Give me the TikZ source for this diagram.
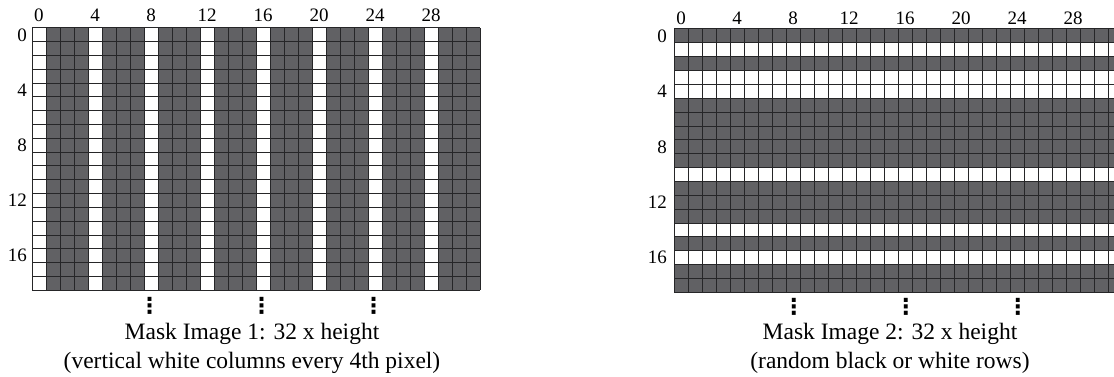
\documentclass[tikz,border=0pt]{standalone}
\usepackage{fontspec}
\setmainfont{Liberation Serif}
\newfontfamily\dotsfont{DejaVu Sans}
\usepackage{tikz}
\usetikzlibrary{positioning}

\definecolor{maskgray}{RGB}{97,97,100}
\definecolor{cellstroke}{RGB}{38,38,40}

\begin{document}
\begin{tikzpicture}[x=1pt, y=-1pt,
    cellline/.style={draw=cellstroke, line width=1pt},
    axisnum/.style={inner sep=0pt, font=\fontsize{19}{19}\selectfont},
    moredots/.style={inner sep=0pt, anchor=south, font=\dotsfont\bfseries\fontsize{22}{22}\selectfont},
    caption/.style={inner sep=0pt, anchor=north, align=center, font=\fontsize{23.5}{29}\selectfont}]
    \useasboundingbox (0,0) rectangle (1114,377);
    \clip (0,0) rectangle (1114,377);

    % mask image 1: every 4th column white
    \begin{scope}[shift={(32,28)}, x=14pt, y=-13.8pt]
        \fill[maskgray] (0,0) rectangle (32,19);
        \foreach \c in {0,4,...,28}
            \fill[white] (\c,0) rectangle (\c+1,19);
        \foreach \c in {0,...,32}
            \draw[cellline] (\c,0) -- (\c,19);
        \foreach \r in {0,...,19}
            \draw[cellline] (0,\r) -- (32,\r);

        \foreach \c in {0,4,...,28}
            \node[axisnum, anchor=base] (colA\c) at (\c+0.5,-0.45) {\c};
        \foreach \r in {0,4,...,16}
            \node[axisnum, anchor=east] (rowA\r) at (-0.35,\r+0.5) {\r};

        % rows go on below
        \node[moredots] (dotsA1) at (8.4,20.8) {⋮};
        \node[moredots] (dotsA2) at (16.4,20.8) {⋮};
        \node[moredots] (dotsA3) at (24.4,20.8) {⋮};
    \end{scope}

    % mask image 2: random rows
    \begin{scope}[shift={(674,29)}, x=14pt, y=-13.86pt]
        \fill[maskgray] (0,0) rectangle (32,19);
        \foreach \r in {1,3,4,10,14,16}
            \fill[white] (0,\r) rectangle (32,\r+1);
        \foreach \c in {0,...,32}
            \draw[cellline] (\c,0) -- (\c,19);
        \foreach \r in {0,...,19}
            \draw[cellline] (0,\r) -- (32,\r);

        \foreach \c in {0,4,...,28}
            \node[axisnum, anchor=base] (colB\c) at (\c+0.5,-0.3) {\c};
        \foreach \r in {0,4,...,16}
            \node[axisnum, anchor=east] (rowB\r) at (-0.5,\r+0.5) {\r};

        \node[moredots] (dotsB1) at (8.57,20.7) {⋮};
        \node[moredots] (dotsB2) at (16.57,20.7) {⋮};
        \node[moredots] (dotsB3) at (24.57,20.7) {⋮};
    \end{scope}

    \node[caption] (capA) at (252,323.3) {Mask Image 1: 32 x height\\(vertical white columns every 4th pixel)};
    \node[caption] (capB) at (890,323.3) {Mask Image 2: 32 x height\\(random black or white rows)};
\end{tikzpicture}
\end{document}
